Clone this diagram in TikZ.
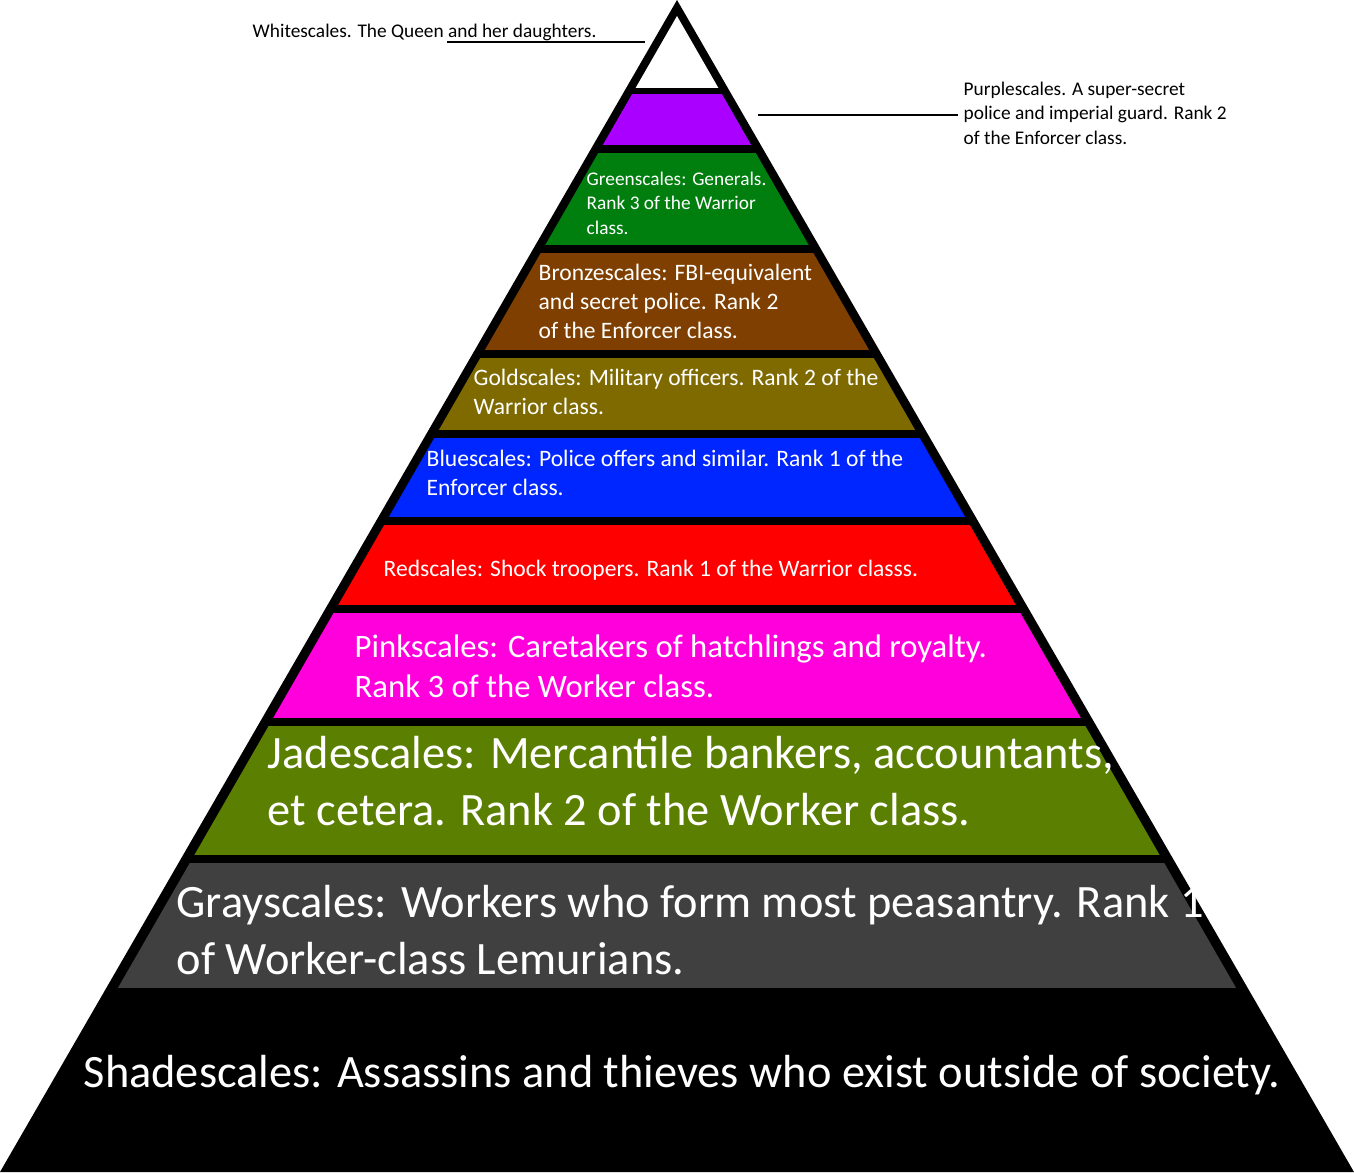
\documentclass[tikz,border=0pt]{standalone}
\usepackage{fontspec}
\setmainfont{Carlito}
\usetikzlibrary{positioning}
\definecolor{purplescale}{HTML}{AA00FF}
\definecolor{greenscale}{HTML}{007F0E}
\definecolor{bronzescale}{HTML}{7F3F00}
\definecolor{goldscale}{HTML}{7F6A00}
\definecolor{bluescale}{HTML}{0026FF}
\definecolor{redscale}{HTML}{FF0000}
\definecolor{pinkscale}{HTML}{FF00DC}
\definecolor{jadescale}{HTML}{5B7F00}
\definecolor{grayscale}{HTML}{404040}
\tikzset{
  lbl/.style={anchor=north west,align=left,inner sep=0,text=white},
  note/.style={anchor=north west,align=left,inner sep=0,text=black},
  fsA/.style={font=\fontsize{5.5pt}{7pt}\selectfont},
  fsB/.style={font=\fontsize{6.7pt}{8.25pt}\selectfont},
  fsC/.style={font=\fontsize{9.3pt}{11.4pt}\selectfont},
  fsD/.style={font=\fontsize{13.2pt}{16.2pt}\selectfont}
}
\begin{document}
\begin{tikzpicture}[x=0.01cm,y=-0.01cm]
\useasboundingbox (0,0) rectangle (1354,1172);
% pyramid
\fill[black] (677,0) -- (1354,1172) -- (0,1172) -- cycle;
\begin{scope}
\clip (677,16) -- (1342,1172) -- (12,1172) -- cycle;
\fill[white] (0,0) rectangle (1354,88);
\fill[purplescale] (0,94) rectangle (1354,145);
\fill[greenscale] (0,153) rectangle (1354,245);
\fill[bronzescale] (0,253) rectangle (1354,350);
\fill[goldscale] (0,358) rectangle (1354,430);
\fill[bluescale] (0,438) rectangle (1354,517);
\fill[redscale] (0,525) rectangle (1354,605);
\fill[pinkscale] (0,613) rectangle (1354,718);
\fill[jadescale] (0,726) rectangle (1354,855);
\fill[grayscale] (0,863) rectangle (1354,988);
\end{scope}
% labels
\node[note,fsA] (white) at (252,23) {Whitescales. The Queen and her daughters.};
\node[note,fsA] (purple) at (963,81) {Purplescales. A super-secret\\police and imperial guard. Rank 2\\of the Enforcer class.};
\node[lbl,fsA] (green) at (586,171) {Greenscales: Generals.\\Rank 3 of the Warrior\\class.};
\node[lbl,fsB] (bronze) at (538,263) {Bronzescales: FBI-equivalent\\and secret police. Rank 2\\of the Enforcer class.};
\node[lbl,fsB] (gold) at (473,368) {Goldscales: Military officers. Rank 2 of the\\Warrior class.};
\node[lbl,fsB] (blue) at (426,449) {Bluescales: Police offers and similar. Rank 1 of the\\Enforcer class.};
\node[lbl,fsB] (red) at (383,559) {Redscales: Shock troopers. Rank 1 of the Warrior classs.};
\node[lbl,fsC] (pink) at (354,634) {Pinkscales: Caretakers of hatchlings and royalty.\\Rank 3 of the Worker class.};
\node[lbl,fsD] (jade) at (267,736) {Jadescales: Mercantile bankers, accountants,\\et cetera. Rank 2 of the Worker class.};
\node[lbl,fsD] (gray) at (176,885) {Grayscales: Workers who form most peasantry. Rank 1\\of Worker-class Lemurians.};
\node[lbl,fsD] (shade) at (83,1055) {Shadescales: Assassins and thieves who exist outside of society.};
% pointer lines
\coordinate (whitetip) at (645,42);
\coordinate (whiteend) at (447,42);
\coordinate (purpletip) at (758,115);
\coordinate (purpleend) at (958,115);
\draw[line width=0.5pt] (whiteend) -- (whitetip);
\draw[line width=0.5pt] (purpletip) -- (purpleend);
\end{tikzpicture}
\end{document}
